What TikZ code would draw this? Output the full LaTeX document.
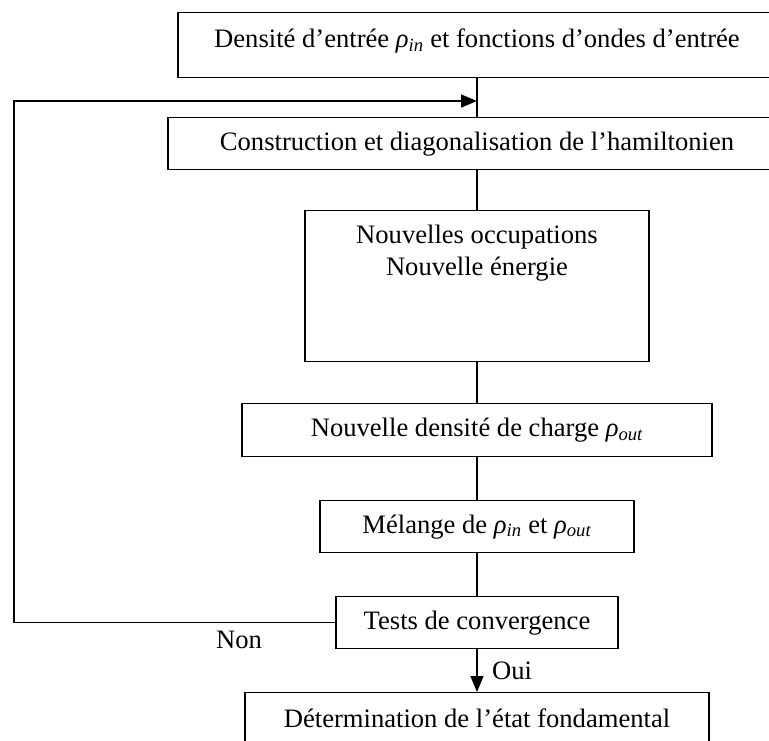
\documentclass[tikz,border=0pt]{standalone}
\usepackage{fontspec}
\setmainfont{Liberation Serif}
\usepackage{tikz}
\usetikzlibrary{arrows.meta}
\newcommand{\rhoidx}[1]{\textit{ρ}\textsubscript{\textit{#1}}}

\begin{document}
\begin{tikzpicture}[x=1pt, y=-1pt, line width=1.4pt,
    boite/.style={draw, rectangle, anchor=north, inner sep=0pt, align=center},
    fleche/.style={-{Triangle[length=16pt, width=13pt]}},
    font=\fontsize{26.6}{32}\selectfont]
    \useasboundingbox (0, 0) rectangle (769, 740);
    \node[boite, minimum width=598pt, text height=35pt, text depth=30pt] (entree) at (477, 12)
        {Densité d’entrée \rhoidx{in} et fonctions d’ondes d’entrée};
    \node[boite, minimum width=618pt, minimum height=52pt] (hamilton) at (477, 117)
        {Construction et diagonalisation de l’hamiltonien};
    \node[boite, minimum width=344pt, text height=65pt, text depth=86pt] (occup) at (477, 210)
        {Nouvelles occupations\\Nouvelle énergie};
    \node[boite, minimum width=470pt, minimum height=53pt] (rhoout) at (477, 403)
        {Nouvelle densité de charge \rhoidx{out}};
    \node[boite, minimum width=314pt, minimum height=52pt] (melange) at (477, 500)
        {Mélange de \rhoidx{in} et \rhoidx{out}};
    \node[boite, minimum width=282pt, minimum height=52pt] (tests) at (477, 596)
        {Tests de convergence};
    \node[boite, minimum width=464pt, minimum height=52pt] (fondam) at (477, 692)
        {Détermination de l’état fondamental};
    \draw (entree) -- (hamilton);
    \draw (hamilton) -- (occup);
    \draw (occup) -- (rhoout);
    \draw (rhoout) -- (melange);
    \draw (melange) -- (tests);
    \draw[fleche] (tests) -- (fondam);
    % retour vers le debut du cycle
    \coordinate (coin) at (14, 101);
    \coordinate (jonction) at (477, 101);
    \draw[fleche] (tests.west) -| (coin) -- (jonction);
    \node (non) at (239, 640) {Non};
    \node (oui) at (512, 671) {Oui};
\end{tikzpicture}
\end{document}
